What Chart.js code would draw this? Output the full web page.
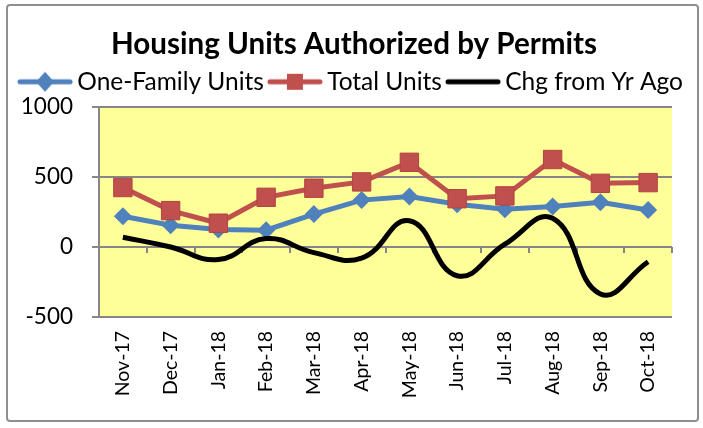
<!DOCTYPE html>
<html>
<head>
<meta charset="utf-8">
<script src="https://cdn.jsdelivr.net/npm/chart.js@4"></script>
<style>
  body { margin: 0; background: #fff; }
  #wrap { position: relative; width: 703px; height: 428px; }
  #frame { position: absolute; left: 6px; top: 4px; width: 689px; height: 414px; border: 2px solid #8f8f8f; border-radius: 4px; pointer-events: none; }
  canvas { position: absolute; left: 0; top: 0; }
</style>
</head>
<body>
<div id="wrap">
  <canvas id="chart" width="703" height="428"></canvas>
  <div id="frame"></div>
</div>
<script>
const months = ['Nov-17', 'Dec-17', 'Jan-18', 'Feb-18', 'Mar-18', 'Apr-18', 'May-18', 'Jun-18', 'Jul-18', 'Aug-18', 'Sep-18', 'Oct-18'];
const oneFamily = [220, 155, 125, 120, 235, 335, 360, 305, 270, 290, 320, 265];
const totalUnits = [425, 260, 170, 355, 420, 465, 605, 345, 365, 625, 455, 460];
const chgYrAgo = [70, 0, -90, 60, -40, -80, 188, -205, 20, 205, -335, -105];
const yTicks = [-500, 0, 500, 1000];

const BLUE = '#4F81BD';
const RED = '#C0504D';
const FONT = 'Lato, "Open Sans", sans-serif';

// little line + marker pictures for the legend
function legendIcon(color, marker) {
    const c = document.createElement('canvas');
    c.width = 56; c.height = 22;
    const g = c.getContext('2d');
    g.strokeStyle = color; g.lineWidth = 5; g.lineCap = 'round';
    g.beginPath(); g.moveTo(3, 11); g.lineTo(53, 11); g.stroke();
    g.fillStyle = color;
    if (marker === 'diamond') {
        g.beginPath(); g.moveTo(28, 1); g.lineTo(37, 11); g.lineTo(28, 21); g.lineTo(19, 11); g.closePath(); g.fill();
    } else if (marker === 'square') {
        g.fillRect(20, 3, 16, 16);
    }
    return c;
}

// nudge title/legend: the original centres them over the whole frame, not the padded area
function shiftBox(box, dx, dy, extraHeight, extraWidth) {
    const fit = box.fit, draw = box.draw;
    box.fit = function () {
        this.maxWidth += extraWidth;
        fit.call(this);
        this.height += extraHeight;
    };
    box.draw = function () {
        const right = this.right, width = this.width;
        this.right += extraWidth;
        this.width += extraWidth;
        this.ctx.save();
        this.ctx.translate(dx, dy);
        draw.call(this);
        this.ctx.restore();
        this.right = right;
        this.width = width;
    };
}

const boxNudge = {
    id: 'boxNudge',
    beforeInit(chart) {
        shiftBox(chart.titleBlock, 14, 0, 0, 0);
        shiftBox(chart.legend, -6, -4, -1, 40);
    }
};

// plot area fill + short tick marks on the zero line
const plotDeco = {
    id: 'plotDeco',
    beforeDraw(chart) {
        const { ctx, chartArea: a } = chart;
        ctx.save();
        ctx.fillStyle = '#FFFF99';
        ctx.fillRect(a.left, a.top, a.right - a.left, a.bottom - a.top);
        ctx.restore();
    },
    beforeDatasetsDraw(chart) {
        const { ctx, scales: { x, y } } = chart;
        const y0 = y.getPixelForValue(0);
        ctx.save();
        ctx.strokeStyle = '#868686';
        ctx.lineWidth = 2;
        ctx.beginPath();
        for (let i = 0; i <= months.length; i++) {
            const px = Math.round(x.left + (x.right - x.left) * i / months.length);
            ctx.moveTo(px, y0);
            ctx.lineTo(px, y0 + 6);
        }
        ctx.stroke();
        ctx.restore();
    }
};

new Chart(document.getElementById('chart'), {
    type: 'line',
    data: {
        labels: months,
        datasets: [
            { label: 'One-Family Units', data: oneFamily, borderColor: BLUE, backgroundColor: BLUE, borderWidth: 5,
              pointStyle: 'rectRot', pointRadius: 9, pointBorderWidth: 0, order: 3, tension: 0 },
            { label: 'Total Units', data: totalUnits, borderColor: RED, backgroundColor: RED, borderWidth: 5,
              pointStyle: 'rect', pointRadius: 13, pointBorderWidth: 1, pointBorderColor: '#B3433F', order: 2, tension: 0 },
            { label: 'Chg from Yr Ago', data: chgYrAgo, borderColor: '#000', backgroundColor: '#000', borderWidth: 5,
              pointRadius: 0, order: 1, tension: 0.45 }
        ]
    },
    options: {
        responsive: false,
        animation: false,
        events: [],
        layout: { padding: { left: 8, right: 31, top: 12, bottom: 10 } },
        plugins: {
            title: { display: true, text: 'Housing Units Authorized by Permits', color: '#000',
                     font: { family: FONT, size: 29.6, weight: 'bold' }, padding: { top: 15, bottom: 0 } },
            legend: {
                labels: {
                    color: '#000', font: { family: FONT, size: 24.5 }, usePointStyle: true, pointStyleWidth: 40, padding: 11,
                    generateLabels: chart => chart.data.datasets.map((ds, i) => ({
                        text: ds.label, datasetIndex: i, fontColor: '#000', lineWidth: 0,
                        pointStyle: legendIcon(ds.borderColor, ['diamond', 'square', 'none'][i])
                    }))
                }
            },
            tooltip: { enabled: false }
        },
        scales: {
            x: {
                offset: true,
                grid: { display: false },
                border: { display: false },
                ticks: { color: '#000', font: { family: FONT, size: 19.5 }, minRotation: 90, maxRotation: 90, padding: 6 },
                afterFit: s => { s.height = 101; }
            },
            y: {
                min: -500, max: 1000,
                afterBuildTicks: s => { s.ticks = yTicks.map(v => ({ value: v })); },
                grid: { color: '#868686', lineWidth: 2, tickLength: 7 },
                border: { color: '#868686', width: 2 },
                ticks: { color: '#000', font: { family: FONT, size: 22.5 }, padding: 19, callback: v => String(v) },
                afterFit: s => { s.width = 91; }
            }
        }
    },
    plugins: [boxNudge, plotDeco]
});
</script>
</body>
</html>
